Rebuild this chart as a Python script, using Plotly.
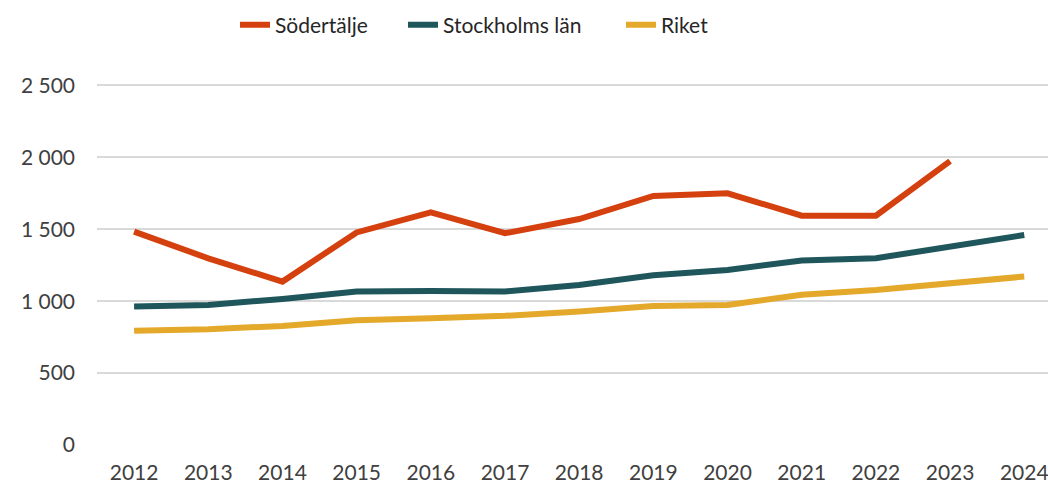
import plotly.graph_objects as go

years = ["2012", "2013", "2014", "2015", "2016", "2017", "2018",
         "2019", "2020", "2021", "2022", "2023", "2024"]
sodertalje = [1483, 1298, 1136, 1478, 1618, 1472, 1571, 1731, 1750, 1594, 1594, 1974, None]
stockholm = [963, 974, 1015, 1067, 1071, 1067, 1113, 1180, 1217, 1282, 1298, 1379, 1460]
riket = [794, 805, 828, 868, 882, 898, 928, 967, 974, 1044, 1078, 1125, 1171]

series = [
    ("Södertälje", sodertalje, "#D5400F", "legend"),
    ("Stockholms län", stockholm, "#1F565C", "legend2"),
    ("Riket", riket, "#E4A82A", "legend3"),
]

W, H = 1048, 486
ML, MR, MT, MB = 97, 0, 71, 41
PW = W - ML - MR
PH = H - MT - MB


def px_to_paper_x(px):
    return (px - ML) / PW


def px_to_paper_y(py):
    return (H - MB - py) / PH


fig = go.Figure()
for name, vals, color, leg in series:
    fig.add_trace(go.Scatter(
        x=years, y=vals, name=name, mode="lines",
        line=dict(color=color, width=6, shape="linear"),
        connectgaps=False, legend=leg,
    ))

font_family = "Lato, 'Open Sans', sans-serif"
legend_text_starts = [276, 444, 662]
leg_common = dict(orientation="h", yanchor="middle", xanchor="left",
                  font=dict(size=21, color="#262626"), bgcolor="rgba(0,0,0,0)")
legends = {}
for key, tx in zip(["legend", "legend2", "legend3"], legend_text_starts):
    legends[key] = dict(leg_common, x=px_to_paper_x(tx - 41), y=px_to_paper_y(25))

fig.update_layout(
    width=W, height=H,
    margin=dict(l=ML, r=MR, t=MT, b=MB, autoexpand=False),
    paper_bgcolor="white", plot_bgcolor="white",
    font=dict(family=font_family, size=21, color="#404040"),
    separators=", ",
    showlegend=True,
    **legends,
    xaxis=dict(type="category", range=[-0.5, 12.32], showgrid=False, automargin=False,
               showline=False, ticks="", ticklabelstandoff=13,
               tickfont=dict(size=21, color="#404040")),
    yaxis=dict(range=[0, 2600], tickvals=[0, 500, 1000, 1500, 2000, 2500],
               tickformat=",d", showgrid=True, gridcolor="#D9D9D9", gridwidth=1.5,
               zeroline=False, showline=False, ticks="", ticklabelstandoff=21,
               automargin=False, tickfont=dict(size=21, color="#404040")),
)

fig.write_html("out.html",
               config={"displayModeBar": False},
               post_script="document.body.style.margin='0';document.body.style.padding='0';"
                           "window.dispatchEvent(new Event('resize'));")
